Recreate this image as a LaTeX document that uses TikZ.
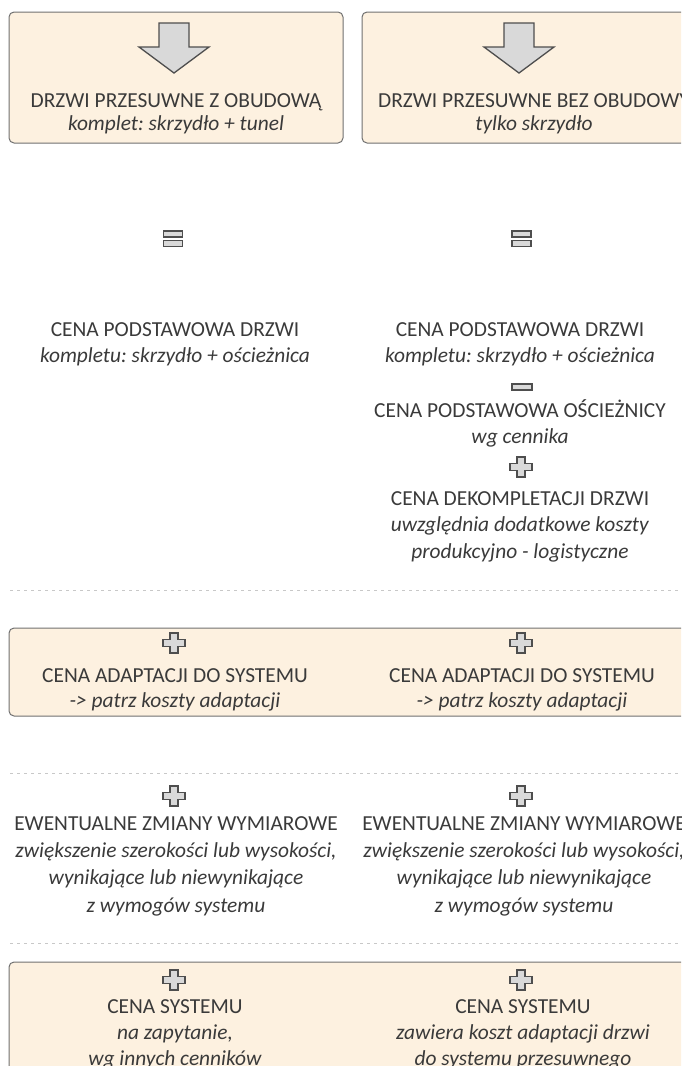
\documentclass[tikz,border=0pt]{standalone}
\usepackage{fontspec}
\setmainfont{Carlito}
\usepackage{xcolor}
\usepackage{tikz}
\usetikzlibrary{positioning}
\frenchspacing

\definecolor{panelfill}{RGB}{253,241,224}
\definecolor{panelline}{RGB}{112,112,112}
\definecolor{txtgray}{RGB}{58,58,58}
\definecolor{iconfill}{RGB}{217,217,217}
\definecolor{iconline}{RGB}{78,78,78}
\definecolor{sepgray}{RGB}{200,200,200}

\begin{document}
\begin{tikzpicture}[
  x=1pt, y=-1pt,
  every node/.style={font=\fontsize{21.4}{26}\selectfont, text=txtgray},
  label/.style={align=center, inner sep=0pt},
  panel/.style={draw=panelline, fill=panelfill, line width=1pt, rounded corners=5pt},
  icon/.style={draw=iconline, fill=iconfill, line width=1.3pt, line join=miter},
  sep/.style={draw=sepgray, line width=0.9pt, dash pattern=on 3pt off 4pt},
  downarrow/.pic={
    \draw[icon] (-15,0) -- (15,0) -- (15,24) -- (35,24) -- (0,50)
      -- (-35,24) -- (-15,24) -- cycle;
  },
  equalsign/.pic={
    \draw[icon] (-9.5,-7.5) rectangle (9.5,-1.5);
    \draw[icon] (-9.5,2) rectangle (9.5,8);
  },
  minussign/.pic={
    \draw[icon] (-10,-3) rectangle (10,3);
  },
  plussign/.pic={
    \draw[icon] (-4,-10) -- (4,-10) -- (4,-3.5) -- (11,-3.5) -- (11,3.5)
      -- (4,3.5) -- (4,10) -- (-4,10) -- (-4,3.5) -- (-11,3.5)
      -- (-11,-3.5) -- (-4,-3.5) -- cycle;
  },
]
\useasboundingbox (0,0) rectangle (681,1066);
\clip (0,0) rectangle (681,1066);

% ---- Panels and separators ----
\draw[panel] (9,12) rectangle (343,143);
\draw[panel] (362,12) rectangle (704,143);
\draw[panel] (9,628) rectangle (704,716);
\draw[panel] (9,962) rectangle (704,1100);

\draw[sep] (10,590) -- (681,590);
\draw[sep] (10,773) -- (681,773);
\draw[sep] (10,943) -- (681,943);

% ---- Top: door types ----
\pic at (174,23) {downarrow};
\pic at (519,23) {downarrow};

\node[label, font=\fontsize{21.4}{23}\selectfont] (zobud) at (176,113.5)
  {DRZWI PRZESUWNE Z OBUDOWĄ\\ \textit{komplet: skrzydło + tunel}};
\node[label, font=\fontsize{21.4}{23}\selectfont] (bezobud) at (534,113.5)
  {DRZWI PRZESUWNE BEZ OBUDOWY\\ \textit{tylko skrzydło}};

\pic at (173,238.5) {equalsign};
\pic at (521.5,238.5) {equalsign};

% ---- Base price ----
\node[label] (cenaL) at (175,344.5)
  {CENA PODSTAWOWA DRZWI\\ \textit{kompletu: skrzydło + ościeżnica}};
\node[label] (cenaR) at (520,344.5)
  {CENA PODSTAWOWA DRZWI\\ \textit{kompletu: skrzydło + ościeżnica}};

\pic at (522,387) {minussign};
\node[label] (oscR) at (520,423.5)
  {CENA PODSTAWOWA OŚCIEŻNICY\\ \textit{wg cennika}};

\pic at (521,467) {plussign};
\node[label, font=\fontsize{21.4}{26.5}\selectfont] (dekR) at (520,526.5)
  {CENA DEKOMPLETACJI DRZWI\\ \textit{uwzględnia dodatkowe koszty}\\
   \textit{produkcyjno - logistyczne}};

% ---- Adaptation ----
\pic at (174,643) {plussign};
\pic at (521,643) {plussign};
\node[label, font=\fontsize{21.4}{25}\selectfont] (adaptL) at (175,690)
  {CENA ADAPTACJI DO SYSTEMU\\ \textit{-> patrz koszty adaptacji}};
\node[label, font=\fontsize{21.4}{25}\selectfont] (adaptR) at (522,690)
  {CENA ADAPTACJI DO SYSTEMU\\ \textit{-> patrz koszty adaptacji}};

% ---- Dimension changes ----
\pic at (174,796) {plussign};
\pic at (521,796) {plussign};
\node[label, font=\fontsize{21.4}{27.3}\selectfont] (zmianyL) at (176,866)
  {EWENTUALNE ZMIANY WYMIAROWE\\ \textit{zwiększenie szerokości lub wysokości,}\\
   \textit{wynikające lub niewynikające}\\ \textit{z wymogów systemu}};
\node[label, font=\fontsize{21.4}{27.3}\selectfont] (zmianyR) at (524,866)
  {EWENTUALNE ZMIANY WYMIAROWE\\ \textit{zwiększenie szerokości lub wysokości,}\\
   \textit{wynikające lub niewynikające}\\ \textit{z wymogów systemu}};

% ---- System price ----
\pic at (174,980) {plussign};
\pic at (521,980) {plussign};
\node[label] (systemL) at (175,1034)
  {CENA SYSTEMU\\ \textit{na zapytanie,}\\ \textit{wg innych cenników}};
\node[label] (systemR) at (523,1034)
  {CENA SYSTEMU\\ \textit{zawiera koszt adaptacji drzwi}\\
   \textit{do systemu przesuwnego}};

\end{tikzpicture}
\end{document}
